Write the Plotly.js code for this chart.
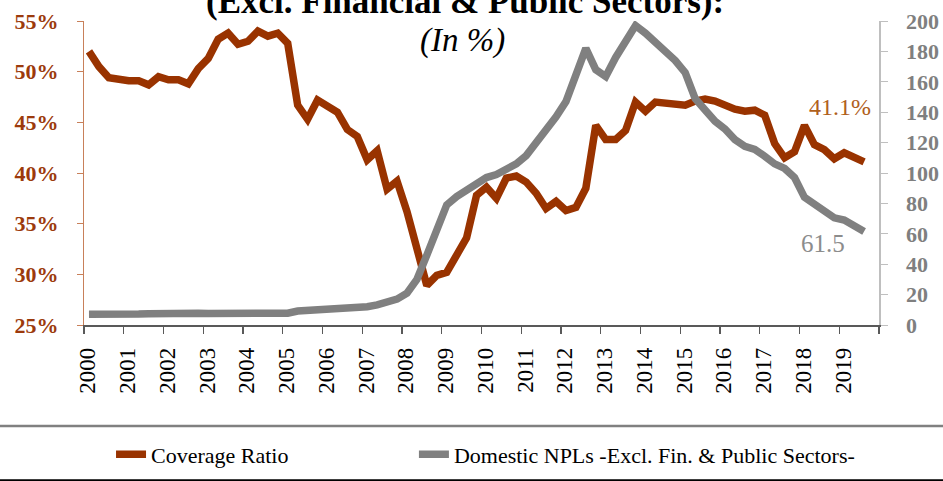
<!DOCTYPE html>
<html><head><meta charset="utf-8">
<script src="https://cdn.plot.ly/plotly-3.0.1.min.js"></script>
<style>html,body{margin:0;padding:0;background:#fff}#chart{width:943px;height:481px}</style>
</head><body><div id="chart"></div>
<script>
const quarters = [
 "2000Q1","2000Q2","2000Q3","2000Q4","2001Q1","2001Q2","2001Q3","2001Q4",
 "2002Q1","2002Q2","2002Q3","2002Q4","2003Q1","2003Q2","2003Q3","2003Q4",
 "2004Q1","2004Q2","2004Q3","2004Q4","2005Q1","2005Q2","2005Q3","2005Q4",
 "2006Q1","2006Q2","2006Q3","2006Q4","2007Q1","2007Q2","2007Q3","2007Q4",
 "2008Q1","2008Q2","2008Q3","2008Q4","2009Q1","2009Q2","2009Q3","2009Q4",
 "2010Q1","2010Q2","2010Q3","2010Q4","2011Q1","2011Q2","2011Q3","2011Q4",
 "2012Q1","2012Q2","2012Q3","2012Q4","2013Q1","2013Q2","2013Q3","2013Q4",
 "2014Q1","2014Q2","2014Q3","2014Q4","2015Q1","2015Q2","2015Q3","2015Q4",
 "2016Q1","2016Q2","2016Q3","2016Q4","2017Q1","2017Q2","2017Q3","2017Q4",
 "2018Q1","2018Q2","2018Q3","2018Q4","2019Q1","2019Q2","2019Q3"
];
const coverageRatio = [
 52.0,50.5,49.4,49.2,49.1,49.1,48.7,49.5,
 49.2,49.2,48.8,50.3,51.3,53.2,53.8,52.7,
 53.0,54.0,53.5,53.8,52.8,46.7,45.3,47.2,
 46.6,46.0,44.3,43.6,41.3,42.2,38.4,39.2,
 36.2,32.6,28.9,29.9,30.2,31.9,33.6,37.8,
 38.6,37.5,39.5,39.7,39.1,38.0,36.5,37.2,
 36.3,36.6,38.5,44.7,43.3,43.3,44.2,47.0,
 46.1,47.0,46.9,46.9,46.7,47.1,47.3,47.1,
 46.7,46.3,46.1,46.2,45.7,42.9,41.5,42.1,
 44.7,42.8,42.3,41.4,42.0,41.5,41.1
];
const domesticNPLs = [
 7.0,6.8,6.9,7.0,7.1,7.2,7.4,7.7,
 8.0,8.3,8.6,7.8,7.6,7.6,7.6,7.5,
 7.4,7.4,7.5,7.6,7.8,9.2,9.5,9.7,
 10.0,10.5,11.0,11.3,12.0,13.2,14.8,17.0,
 21.0,30.0,46.0,62.0,79.0,84.5,89.0,93.0,
 97.0,99.0,102.0,106.0,111.5,120.0,127.0,137.0,
 147.0,166.0,182.0,168.0,163.5,176.0,187.0,197.0,
 192.0,186.0,181.0,174.0,166.0,149.0,141.5,134.0,
 129.0,122.0,117.5,115.5,111.0,106.0,103.0,97.0,
 84.0,79.0,75.0,70.5,69.0,65.5,61.5
];
const yearLabels = ["2000","2001","2002","2003","2004","2005","2006","2007","2008","2009",
 "2010","2011","2012","2013","2014","2015","2016","2017","2018","2019"];
const seriesNames = ["Coverage Ratio","Domestic NPLs -Excl. Fin. & Public Sectors-"];
const titleLine1 = "(Excl. Financial & Public Sectors):";
const titleLine2 = "(In %)";

const BROWN = "#993300", GRAY = "#808080";
const SERIF = "Liberation Serif, Times New Roman, serif";

function quarterToX(s){ const y = +s.slice(0,4), q = +s.slice(5); return y + (q - 0.5) / 4; }
const xs = quarters.map(quarterToX);
const tickVals = yearLabels.map(Number).concat([2020]);
const tickText = yearLabels.concat([""]);
const last = xs.length - 1;

const traces = [
 {x: xs, y: coverageRatio, name: seriesNames[0], type: "scatter", mode: "lines", yaxis: "y",
  legend: "legend", line: {color: BROWN, width: 7.5}, hoverinfo: "skip"},
 {x: xs, y: domesticNPLs, name: seriesNames[1], type: "scatter", mode: "lines", yaxis: "y2",
  legend: "legend2", line: {color: GRAY, width: 7.5}, hoverinfo: "skip"}
];

const legendBase = {orientation: "h", xref: "paper", yref: "paper", y: -0.426,
  xanchor: "left", yanchor: "middle", font: {family: SERIF, size: 22, color: "#000"},
  bgcolor: "rgba(0,0,0,0)"};

const layout = {
 width: 943, height: 481,
 margin: {l: 84, r: 64, t: 21, b: 156, pad: 0, autoexpand: false},
 paper_bgcolor: "#fff", plot_bgcolor: "#fff",
 font: {family: SERIF, color: "#000"},
 showlegend: true,
 legend: Object.assign({}, legendBase, {x: 0.034}),
 legend2: Object.assign({}, legendBase, {x: 0.415}),
 xaxis: {range: [2000, 2020], tickmode: "array", tickvals: tickVals, ticktext: tickText,
  automargin: false,
  tickangle: -90, ticks: "outside", ticklen: 7, tickwidth: 1.2, tickcolor: "#595959",
  showline: true, linecolor: "#595959", linewidth: 1.5, showgrid: false, zeroline: false,
  tickfont: {family: SERIF, size: 23, color: "#000"}, ticklabelstandoff: 5, ticklabelshift: 4},
 yaxis: {range: [25, 55], dtick: 5, ticksuffix: "%", ticks: "outside", ticklen: 6, automargin: false,
  tickcolor: "#C8805A", showline: true, linecolor: "#C8805A", linewidth: 1.2,
  showgrid: false, zeroline: false, ticklabelstandoff: 14,
  tickfont: {family: SERIF, size: 22, color: "#9C3A0C", weight: "bold"}},
 yaxis2: {range: [0, 200], dtick: 20, overlaying: "y", side: "right", ticks: "outside", ticklen: 7,
  automargin: false,
  tickcolor: "#BFBFBF", showline: true, linecolor: "#BFBFBF", linewidth: 1.5,
  showgrid: false, zeroline: false, ticklabelstandoff: 14,
  tickfont: {family: SERIF, size: 22, color: "#7F7F7F", weight: "bold"}},
 annotations: [
  {text: titleLine1, xref: "paper", yref: "paper", x: 0.479, y: 1.064, xanchor: "center", yanchor: "middle",
   showarrow: false, font: {family: SERIF, size: 35, color: "#000", weight: "bold"}},
  {text: titleLine2, xref: "paper", yref: "paper", x: 0.4767, y: 0.937, xanchor: "center", yanchor: "middle",
   showarrow: false, font: {family: SERIF, size: 33, color: "#000", style: "italic"}},
  {text: coverageRatio[last].toFixed(1) + "%", xref: "x", yref: "y", x: xs[last], y: coverageRatio[last],
   xanchor: "center", yanchor: "middle", xshift: -24, yshift: 55, showarrow: false,
   font: {family: SERIF, size: 24, color: "#B0601C"}},
  {text: domesticNPLs[last].toFixed(1), xref: "x", yref: "y2", x: xs[last], y: domesticNPLs[last],
   xanchor: "center", yanchor: "middle", xshift: -41, yshift: -12, showarrow: false,
   font: {family: SERIF, size: 25, color: "#8C8C8C"}}
 ],
 shapes: [
  {type: "line", xref: "paper", yref: "paper", x0: -0.2, x1: 1.2, y0: -0.3326, y1: -0.3326,
   line: {color: "#808080", width: 2.5}},
  {type: "line", xref: "paper", yref: "paper", x0: -0.2, x1: 1.2, y0: -0.5104, y1: -0.5104,
   line: {color: "#000", width: 2}}
 ]
};

Plotly.newPlot("chart", traces, layout, {displayModeBar: false, staticPlot: true});
</script>
</body></html>
